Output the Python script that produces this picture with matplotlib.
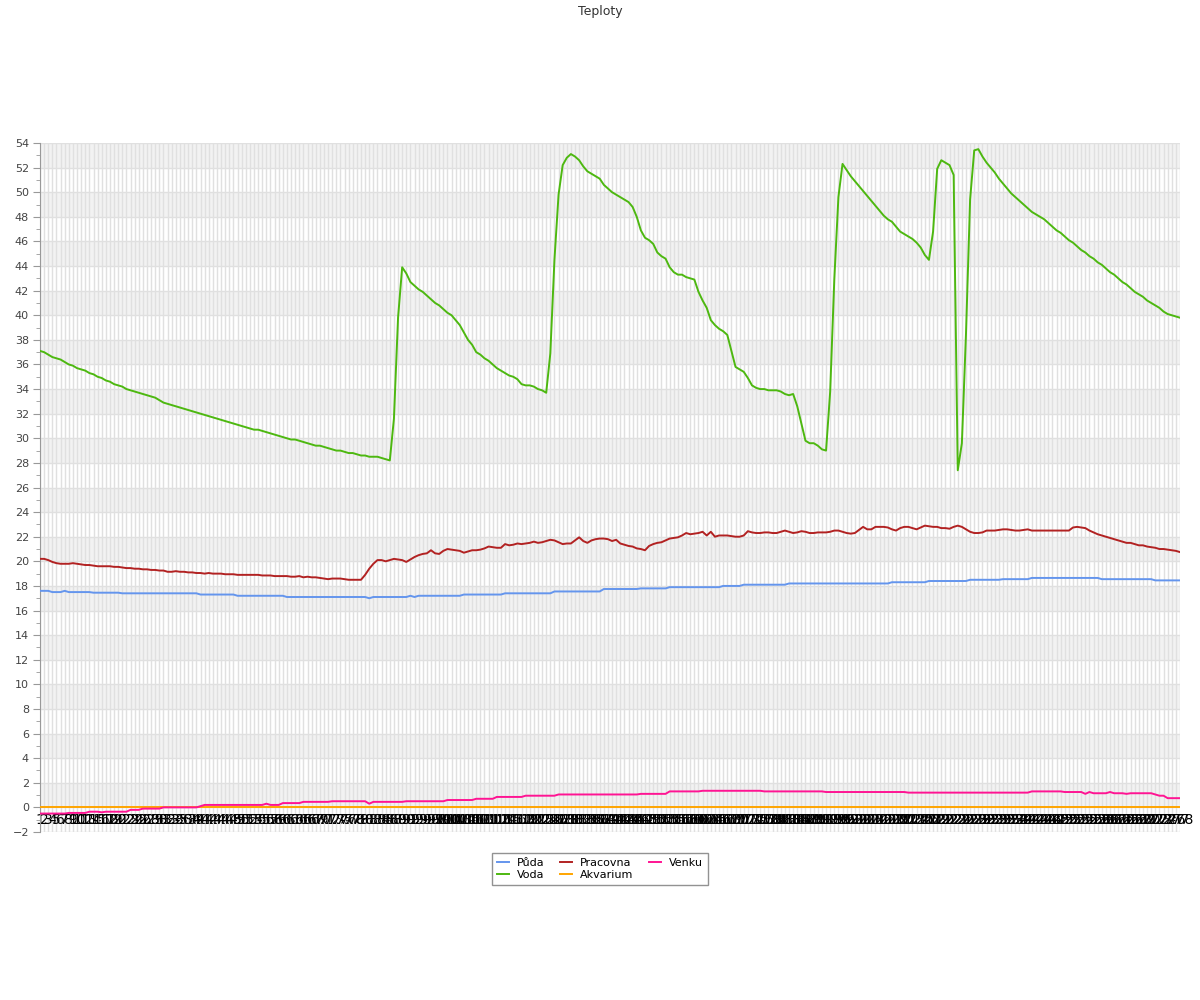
import matplotlib
matplotlib.use("Agg")
import matplotlib.pyplot as plt

# kategorie na ose x (poradova cisla mereni)
labels = [str(i) for i in range(1, 279)]

puda = [
    17.6, 17.6, 17.6, 17.5, 17.5, 17.5, 17.6, 17.5, 17.5, 17.5,
    17.5, 17.5, 17.5, 17.45, 17.45, 17.45, 17.45, 17.45, 17.45, 17.45,
    17.4, 17.4, 17.4, 17.4, 17.4, 17.4, 17.4, 17.4, 17.4, 17.4,
    17.4, 17.4, 17.4, 17.4, 17.4, 17.4, 17.4, 17.4, 17.4, 17.3,
    17.3, 17.3, 17.3, 17.3, 17.3, 17.3, 17.3, 17.3, 17.2, 17.2,
    17.2, 17.2, 17.2, 17.2, 17.2, 17.2, 17.2, 17.2, 17.2, 17.2,
    17.1, 17.1, 17.1, 17.1, 17.1, 17.1, 17.1, 17.1, 17.1, 17.1,
    17.1, 17.1, 17.1, 17.1, 17.1, 17.1, 17.1, 17.1, 17.1, 17.1,
    17.0, 17.1, 17.1, 17.1, 17.1, 17.1, 17.1, 17.1, 17.1, 17.1,
    17.2, 17.1, 17.2, 17.2, 17.2, 17.2, 17.2, 17.2, 17.2, 17.2,
    17.2, 17.2, 17.2, 17.3, 17.3, 17.3, 17.3, 17.3, 17.3, 17.3,
    17.3, 17.3, 17.3, 17.4, 17.4, 17.4, 17.4, 17.4, 17.4, 17.4,
    17.4, 17.4, 17.4, 17.4, 17.4, 17.55, 17.55, 17.55, 17.55, 17.55,
    17.55, 17.55, 17.55, 17.55, 17.55, 17.55, 17.55, 17.75, 17.75, 17.75,
    17.75, 17.75, 17.75, 17.75, 17.75, 17.75, 17.8, 17.8, 17.8, 17.8,
    17.8, 17.8, 17.8, 17.9, 17.9, 17.9, 17.9, 17.9, 17.9, 17.9,
    17.9, 17.9, 17.9, 17.9, 17.9, 17.9, 18.0, 18.0, 18.0, 18.0,
    18.0, 18.1, 18.1, 18.1, 18.1, 18.1, 18.1, 18.1, 18.1, 18.1,
    18.1, 18.1, 18.2, 18.2, 18.2, 18.2, 18.2, 18.2, 18.2, 18.2,
    18.2, 18.2, 18.2, 18.2, 18.2, 18.2, 18.2, 18.2, 18.2, 18.2,
    18.2, 18.2, 18.2, 18.2, 18.2, 18.2, 18.2, 18.3, 18.3, 18.3,
    18.3, 18.3, 18.3, 18.3, 18.3, 18.3, 18.4, 18.4, 18.4, 18.4,
    18.4, 18.4, 18.4, 18.4, 18.4, 18.4, 18.5, 18.5, 18.5, 18.5,
    18.5, 18.5, 18.5, 18.5, 18.55, 18.55, 18.55, 18.55, 18.55, 18.55,
    18.55, 18.65, 18.65, 18.65, 18.65, 18.65, 18.65, 18.65, 18.65, 18.65,
    18.65, 18.65, 18.65, 18.65, 18.65, 18.65, 18.65, 18.65, 18.55, 18.55,
    18.55, 18.55, 18.55, 18.55, 18.55, 18.55, 18.55, 18.55, 18.55, 18.55,
    18.55, 18.45, 18.45, 18.45, 18.45, 18.45, 18.45, 18.45,
]

voda = [
    37.1, 37.0, 36.8, 36.6, 36.5, 36.4, 36.2, 36.0, 35.9, 35.7,
    35.6, 35.5, 35.3, 35.2, 35.0, 34.9, 34.7, 34.6, 34.4, 34.3,
    34.2, 34.0, 33.9, 33.8, 33.7, 33.6, 33.5, 33.4, 33.3, 33.1,
    32.9, 32.8, 32.7, 32.6, 32.5, 32.4, 32.3, 32.2, 32.1, 32.0,
    31.9, 31.8, 31.7, 31.6, 31.5, 31.4, 31.3, 31.2, 31.1, 31.0,
    30.9, 30.8, 30.7, 30.7, 30.6, 30.5, 30.4, 30.3, 30.2, 30.1,
    30.0, 29.9, 29.9, 29.8, 29.7, 29.6, 29.5, 29.4, 29.4, 29.3,
    29.2, 29.1, 29.0, 29.0, 28.9, 28.8, 28.8, 28.7, 28.6, 28.6,
    28.5, 28.5, 28.5, 28.4, 28.3, 28.2, 31.6, 39.8, 43.9, 43.4,
    42.7, 42.4, 42.1, 41.9, 41.6, 41.3, 41.0, 40.8, 40.5, 40.2,
    40.0, 39.6, 39.2, 38.6, 38.0, 37.6, 37.0, 36.8, 36.5, 36.3,
    36.0, 35.7, 35.5, 35.3, 35.1, 35.0, 34.8, 34.4, 34.3, 34.3,
    34.2, 34.0, 33.9, 33.7, 36.9, 44.5, 49.8, 52.2, 52.8, 53.1,
    52.9, 52.6, 52.1, 51.7, 51.5, 51.3, 51.1, 50.6, 50.3, 50.0,
    49.8, 49.6, 49.4, 49.2, 48.8, 48.0, 46.9, 46.3, 46.1, 45.8,
    45.1, 44.8, 44.6, 43.9, 43.5, 43.3, 43.3, 43.1, 43.0, 42.9,
    41.9, 41.2, 40.6, 39.6, 39.2, 38.9, 38.7, 38.4, 37.1, 35.8,
    35.6, 35.4, 34.9, 34.3, 34.1, 34.0, 34.0, 33.9, 33.9, 33.9,
    33.8, 33.6, 33.5, 33.6, 32.6, 31.2, 29.8, 29.6, 29.6, 29.4,
    29.1, 29.0, 33.8, 42.9, 49.6, 52.3, 51.8, 51.3, 50.9, 50.5,
    50.1, 49.7, 49.3, 48.9, 48.5, 48.1, 47.8, 47.6, 47.2, 46.8,
    46.6, 46.4, 46.2, 45.9, 45.5, 44.9, 44.5, 46.8, 51.9, 52.6,
    52.4, 52.2, 51.4, 27.4, 29.6, 38.5, 49.4, 53.4, 53.5, 52.9,
    52.4, 52.0, 51.6, 51.1, 50.7, 50.3, 49.9, 49.6, 49.3, 49.0,
    48.7, 48.4, 48.2, 48.0, 47.8, 47.5, 47.2, 46.9, 46.7, 46.4,
    46.1, 45.9, 45.6, 45.3, 45.1, 44.8, 44.6, 44.3, 44.1, 43.8,
    43.5, 43.3, 43.0, 42.7, 42.5, 42.2, 41.9, 41.7, 41.5, 41.2,
    41.0, 40.8, 40.6, 40.3, 40.1, 40.0, 39.9, 39.8,
]

pracovna = [
    20.2, 20.2, 20.1, 19.95, 19.85, 19.8, 19.8, 19.8, 19.85, 19.8,
    19.75, 19.7, 19.7, 19.65, 19.6, 19.6, 19.6, 19.6, 19.55, 19.55,
    19.5, 19.45, 19.45, 19.4, 19.4, 19.35, 19.35, 19.3, 19.3, 19.25,
    19.25, 19.15, 19.15, 19.2, 19.15, 19.15, 19.1, 19.1, 19.05, 19.05,
    19.0, 19.05, 19.0, 19.0, 19.0, 18.95, 18.95, 18.95, 18.9, 18.9,
    18.9, 18.9, 18.9, 18.9, 18.85, 18.85, 18.85, 18.8, 18.8, 18.8,
    18.8, 18.75, 18.75, 18.8, 18.7, 18.75, 18.7, 18.7, 18.65, 18.6,
    18.55, 18.6, 18.6, 18.6, 18.55, 18.5, 18.5, 18.5, 18.5, 18.9,
    19.4, 19.8, 20.1, 20.1, 20.0, 20.1, 20.2, 20.15, 20.1, 19.95,
    20.15, 20.35, 20.5, 20.6, 20.65, 20.9, 20.65, 20.6, 20.85, 21.0,
    20.95, 20.9, 20.85, 20.7, 20.8, 20.9, 20.9, 20.95, 21.05, 21.2,
    21.15, 21.1, 21.1, 21.4, 21.3, 21.35, 21.45, 21.4, 21.45, 21.5,
    21.6, 21.5, 21.55, 21.65, 21.75, 21.7, 21.55, 21.4, 21.45, 21.45,
    21.7, 21.95, 21.65, 21.5, 21.7, 21.8, 21.85, 21.85, 21.8, 21.65,
    21.75, 21.45, 21.35, 21.25, 21.2, 21.05, 21.0, 20.9, 21.25, 21.4,
    21.5, 21.55, 21.7, 21.85, 21.9, 21.95, 22.1, 22.3, 22.2, 22.25,
    22.3, 22.4, 22.1, 22.4, 22.0, 22.1, 22.1, 22.1, 22.05, 22.0,
    22.0, 22.1, 22.45, 22.35, 22.3, 22.3, 22.35, 22.35, 22.3, 22.3,
    22.4, 22.5, 22.4, 22.3, 22.35, 22.45, 22.4, 22.3, 22.3, 22.35,
    22.35, 22.35, 22.4, 22.5, 22.5, 22.4, 22.3, 22.25, 22.3, 22.55,
    22.8, 22.6, 22.6, 22.8, 22.8, 22.8, 22.75, 22.6, 22.5, 22.7,
    22.8, 22.8, 22.7, 22.6, 22.75, 22.9, 22.85, 22.8, 22.8, 22.7,
    22.7, 22.65, 22.8, 22.9, 22.8, 22.6, 22.4, 22.3, 22.3, 22.35,
    22.5, 22.5, 22.5, 22.55, 22.6, 22.6, 22.55, 22.5, 22.5, 22.55,
    22.6, 22.5, 22.5, 22.5, 22.5, 22.5, 22.5, 22.5, 22.5, 22.5,
    22.5, 22.75, 22.8, 22.75, 22.7, 22.5, 22.35, 22.2, 22.1, 22.0,
    21.9, 21.8, 21.7, 21.6, 21.5, 21.5, 21.4, 21.3, 21.3, 21.2,
    21.15, 21.1, 21.0, 21.0, 20.95, 20.9, 20.85, 20.75,
]

akvarium = [
    0.0, 0.0, 0.0, 0.0, 0.0, 0.0, 0.0, 0.0, 0.0, 0.0, 0.0, 0.0, 0.0, 0.0, 0.0, 0.0, 0.0, 0.0, 0.0, 0.0,
    0.0, 0.0, 0.0, 0.0, 0.0, 0.0, 0.0, 0.0, 0.0, 0.0, 0.0, 0.0, 0.0, 0.0, 0.0, 0.0, 0.0, 0.0, 0.0, 0.0,
    0.0, 0.0, 0.0, 0.0, 0.0, 0.0, 0.0, 0.0, 0.0, 0.0, 0.0, 0.0, 0.0, 0.0, 0.0, 0.0, 0.0, 0.0, 0.0, 0.0,
    0.0, 0.0, 0.0, 0.0, 0.0, 0.0, 0.0, 0.0, 0.0, 0.0, 0.0, 0.0, 0.0, 0.0, 0.0, 0.0, 0.0, 0.0, 0.0, 0.0,
    0.0, 0.0, 0.0, 0.0, 0.0, 0.0, 0.0, 0.0, 0.0, 0.0, 0.0, 0.0, 0.0, 0.0, 0.0, 0.0, 0.0, 0.0, 0.0, 0.0,
    0.0, 0.0, 0.0, 0.0, 0.0, 0.0, 0.0, 0.0, 0.0, 0.0, 0.0, 0.0, 0.0, 0.0, 0.0, 0.0, 0.0, 0.0, 0.0, 0.0,
    0.0, 0.0, 0.0, 0.0, 0.0, 0.0, 0.0, 0.0, 0.0, 0.0, 0.0, 0.0, 0.0, 0.0, 0.0, 0.0, 0.0, 0.0, 0.0, 0.0,
    0.0, 0.0, 0.0, 0.0, 0.0, 0.0, 0.0, 0.0, 0.0, 0.0, 0.0, 0.0, 0.0, 0.0, 0.0, 0.0, 0.0, 0.0, 0.0, 0.0,
    0.0, 0.0, 0.0, 0.0, 0.0, 0.0, 0.0, 0.0, 0.0, 0.0, 0.0, 0.0, 0.0, 0.0, 0.0, 0.0, 0.0, 0.0, 0.0, 0.0,
    0.0, 0.0, 0.0, 0.0, 0.0, 0.0, 0.0, 0.0, 0.0, 0.0, 0.0, 0.0, 0.0, 0.0, 0.0, 0.0, 0.0, 0.0, 0.0, 0.0,
    0.0, 0.0, 0.0, 0.0, 0.0, 0.0, 0.0, 0.0, 0.0, 0.0, 0.0, 0.0, 0.0, 0.0, 0.0, 0.0, 0.0, 0.0, 0.0, 0.0,
    0.0, 0.0, 0.0, 0.0, 0.0, 0.0, 0.0, 0.0, 0.0, 0.0, 0.0, 0.0, 0.0, 0.0, 0.0, 0.0, 0.0, 0.0, 0.0, 0.0,
    0.0, 0.0, 0.0, 0.0, 0.0, 0.0, 0.0, 0.0, 0.0, 0.0, 0.0, 0.0, 0.0, 0.0, 0.0, 0.0, 0.0, 0.0, 0.0, 0.0,
    0.0, 0.0, 0.0, 0.0, 0.0, 0.0, 0.0, 0.0, 0.0, 0.0, 0.0, 0.0, 0.0, 0.0, 0.0, 0.0, 0.0, 0.0,
]

venku = [
    -0.5, -0.5, -0.5, -0.5, -0.5, -0.5, -0.5, -0.45, -0.45, -0.45,
    -0.45, -0.45, -0.35, -0.35, -0.35, -0.4, -0.35, -0.35, -0.35, -0.35,
    -0.35, -0.35, -0.2, -0.2, -0.2, -0.1, -0.1, -0.1, -0.1, -0.1,
    0.0, 0.0, 0.0, 0.0, 0.0, 0.0, 0.0, 0.0, 0.0, 0.1,
    0.2, 0.2, 0.2, 0.2, 0.2, 0.2, 0.2, 0.2, 0.2, 0.2,
    0.2, 0.2, 0.2, 0.2, 0.2, 0.3, 0.2, 0.2, 0.2, 0.35,
    0.35, 0.35, 0.35, 0.35, 0.45, 0.45, 0.45, 0.45, 0.45, 0.45,
    0.45, 0.5, 0.5, 0.5, 0.5, 0.5, 0.5, 0.5, 0.5, 0.5,
    0.3, 0.45, 0.45, 0.45, 0.45, 0.45, 0.45, 0.45, 0.45, 0.5,
    0.5, 0.5, 0.5, 0.5, 0.5, 0.5, 0.5, 0.5, 0.5, 0.6,
    0.6, 0.6, 0.6, 0.6, 0.6, 0.6, 0.7, 0.7, 0.7, 0.7,
    0.7, 0.85, 0.85, 0.85, 0.85, 0.85, 0.85, 0.85, 0.95, 0.95,
    0.95, 0.95, 0.95, 0.95, 0.95, 0.95, 1.05, 1.05, 1.05, 1.05,
    1.05, 1.05, 1.05, 1.05, 1.05, 1.05, 1.05, 1.05, 1.05, 1.05,
    1.05, 1.05, 1.05, 1.05, 1.05, 1.05, 1.1, 1.1, 1.1, 1.1,
    1.1, 1.1, 1.1, 1.3, 1.3, 1.3, 1.3, 1.3, 1.3, 1.3,
    1.3, 1.35, 1.35, 1.35, 1.35, 1.35, 1.35, 1.35, 1.35, 1.35,
    1.35, 1.35, 1.35, 1.35, 1.35, 1.35, 1.3, 1.3, 1.3, 1.3,
    1.3, 1.3, 1.3, 1.3, 1.3, 1.3, 1.3, 1.3, 1.3, 1.3,
    1.3, 1.25, 1.25, 1.25, 1.25, 1.25, 1.25, 1.25, 1.25, 1.25,
    1.25, 1.25, 1.25, 1.25, 1.25, 1.25, 1.25, 1.25, 1.25, 1.25,
    1.25, 1.2, 1.2, 1.2, 1.2, 1.2, 1.2, 1.2, 1.2, 1.2,
    1.2, 1.2, 1.2, 1.2, 1.2, 1.2, 1.2, 1.2, 1.2, 1.2,
    1.2, 1.2, 1.2, 1.2, 1.2, 1.2, 1.2, 1.2, 1.2, 1.2,
    1.2, 1.3, 1.3, 1.3, 1.3, 1.3, 1.3, 1.3, 1.3, 1.25,
    1.25, 1.25, 1.25, 1.25, 1.1, 1.25, 1.15, 1.15, 1.15, 1.15,
    1.25, 1.15, 1.15, 1.15, 1.1, 1.15, 1.15, 1.15, 1.15, 1.15,
    1.15, 1.05, 0.95, 0.95, 0.75, 0.75, 0.75, 0.75,
]

series = [
    ("Půda", puda, "#6495ED"),
    ("Voda", voda, "#4DB810"),
    ("Pracovna", pracovna, "#B22222"),
    ("Akvarium", akvarium, "#FFA500"),
    ("Venku", venku, "#FF1493"),
]

fig = plt.figure(figsize=(12, 10), dpi=100)
ax = fig.add_axes([40 / 1200, 0.168, 1140 / 1200, 0.689])

x = list(range(len(labels)))
for name, vals, color in series:
    ax.plot(x, vals, color=color, linewidth=1.4, label=name, zorder=3)

# stridave pruhy na pozadi
for y0 in range(0, 54, 4):
    ax.axhspan(y0, y0 + 2, color="#f2f2f2", zorder=0, linewidth=0)

ax.set_xlim(0, len(labels) - 1)
ax.set_ylim(-2, 54)
ax.set_yticks(range(-2, 55, 2))
ax.set_yticks(range(-1, 54, 2), minor=True)
ax.set_xticks(x)
ax.set_xticklabels(labels, fontsize=8, color="#444444")
ax.tick_params(axis="x", length=0, pad=4)
ax.tick_params(axis="y", which="major", length=5, color="#999999", labelsize=8,
               labelcolor="#444444", pad=3)
ax.tick_params(axis="y", which="minor", length=3, color="#999999")

ax.grid(True, axis="both", which="major", color="#e0e0e0", linewidth=1, zorder=1)
ax.set_axisbelow(True)
ax.spines["bottom"].set_position(("data", 0))
ax.spines["bottom"].set_visible(False)
ax.spines["top"].set_visible(False)
ax.spines["right"].set_visible(False)
ax.spines["left"].set_color("#999999")

fig.suptitle("Teploty", y=0.995, fontsize=9, color="#333333")

leg = fig.legend(loc="upper center", bbox_to_anchor=(0.5, 0.153), ncol=3,
                 fontsize=8, handlelength=1.1, handletextpad=0.7, frameon=True,
                 fancybox=False, borderpad=0.45, columnspacing=1.4,
                 labelspacing=0.25)
leg.get_frame().set_edgecolor("#777777")
leg.get_frame().set_linewidth(1)

fig.savefig("out.png", dpi=100)
